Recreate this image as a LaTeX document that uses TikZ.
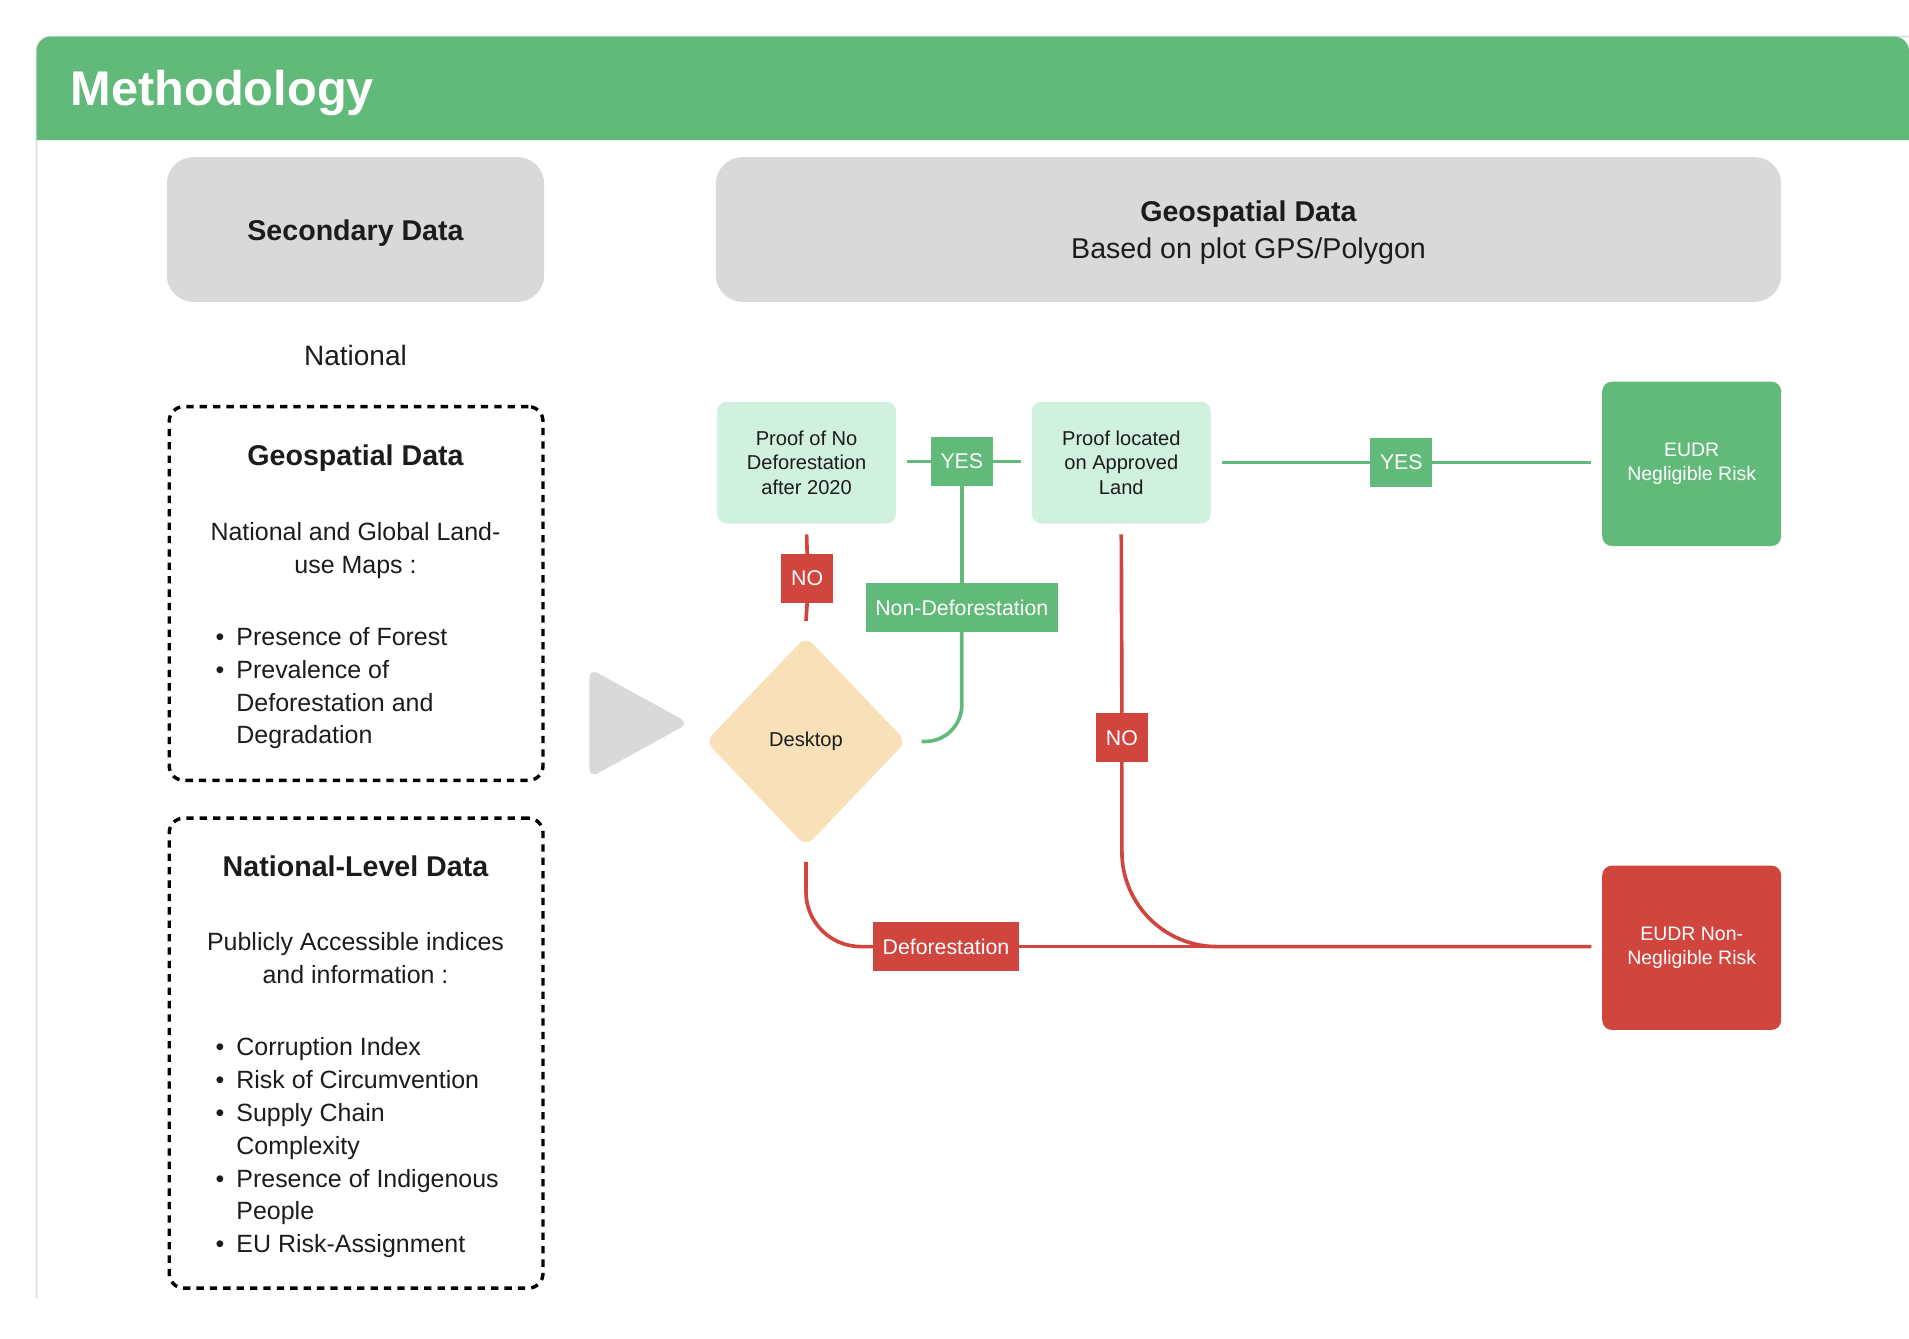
\documentclass[tikz,border=0pt]{standalone}
\usepackage{fontspec}
\setmainfont{Liberation Sans}
\usetikzlibrary{shapes.geometric}

\definecolor{hdgreen}{HTML}{62BA7A}
\definecolor{mint}{HTML}{CFF1DD}
\definecolor{redx}{HTML}{D1453F}
\definecolor{beige}{HTML}{F8E1B9}
\definecolor{greyfill}{HTML}{D9D9D9}
\definecolor{framegrey}{HTML}{DDDDDD}
\definecolor{ink}{HTML}{1C1C1C}

\newcommand{\fs}[2]{\fontsize{#1}{#2}\selectfont}
\newcommand{\bul}{\makebox[17pt][l]{\textbullet}}
\newcommand{\hang}{\makebox[17pt]{}}

\begin{document}
\begin{tikzpicture}[x=1pt, y=-1pt,
    greyhead/.style={fill=greyfill, rounded corners=22pt, inner sep=0pt, minimum height=119pt},
    headtext/.style={text=ink, align=center, anchor=base, inner sep=0pt},
    dashbox/.style={draw=black, line width=2.8pt, dash pattern=on 6pt off 5pt,
        rounded corners=12pt, minimum width=307pt, inner sep=0pt},
    flowbox/.style={fill=mint, rounded corners=8pt, minimum width=147pt, minimum height=100pt,
        align=center, text=ink, font=\fs{16.5}{20}, inner sep=0pt, outer sep=9pt},
    resultbox/.style={rounded corners=8pt, minimum width=147pt, minimum height=135pt,
        align=center, text=white, font=\fs{16}{20}, inner sep=0pt, outer sep=9pt},
    tagbox/.style={minimum height=40pt, inner xsep=8pt, inner ysep=0pt, text=white,
        font=\fs{17.5}{20}, outer sep=0pt},
    gline/.style={draw=hdgreen, line width=3pt},
    rline/.style={draw=redx, line width=3pt}]

\useasboundingbox (0,0) rectangle (1568,1099);

% ===== card and header =====
\draw[framegrey, line width=1.5pt, rounded corners=12pt] (30,1066) -- (30,30) -- (1568,30);
\fill[hdgreen] (30,115) [rounded corners=12pt] -- (30,30) -- (1568,30) [sharp corners] -- (1568,115) -- cycle;
\node[font=\fs{40}{44}\bfseries, text=white, anchor=base west, inner sep=0pt] (title) at (58,87) {Methodology};

% ===== column heads =====
\node[greyhead, minimum width=310pt] (secbox) at (292,188.5) {};
\node[headtext, font=\fs{23.5}{28}\bfseries] (sectext) at (292,197.5) {Secondary Data};
\node[greyhead, minimum width=875pt] (geobox) at (1025.5,188.5) {};
\node[headtext, font=\fs{23.5}{30}] (geotext) at (1025.5,212)
    {\textbf{Geospatial Data}\\Based on plot GPS/Polygon};
\node[headtext, font=\fs{23}{28}] (national) at (292,300) {National};

% ===== secondary data: geospatial =====
\node[dashbox, minimum height=307pt] (geodash) at (292.5,487.5) {};
\node[headtext, font=\fs{23.5}{28}\bfseries] (geotitle) at (292,382) {Geospatial Data};
\node[headtext, font=\fs{20.5}{27}] (geodesc) at (292,471)
    {National and Global Land-\\use Maps :};
\node[font=\fs{20.5}{27}, text=ink, align=left, anchor=base west, inner sep=0pt] (geolist) at (177,611)
    {\bul Presence of Forest\\\bul Prevalence of\\\hang Deforestation and\\\hang Degradation};

% ===== secondary data: national level =====
\node[dashbox, minimum height=386pt] (natdash) at (292.5,865) {};
\node[headtext, font=\fs{23.5}{28}\bfseries] (nattitle) at (292,720) {National-Level Data};
\node[headtext, font=\fs{20.5}{27}] (natdesc) at (292,808)
    {Publicly Accessible indices\\and information :};
\node[font=\fs{20.5}{27}, text=ink, align=left, anchor=base west, inner sep=0pt] (natlist) at (177,1029)
    {\bul Corruption Index\\\bul Risk of Circumvention\\\bul Supply Chain\\\hang Complexity\\
     \bul Presence of Indigenous\\\hang People\\\bul EU Risk-Assignment};

% ===== arrow between columns =====
\fill[greyfill, rounded corners=8pt] (484,549) -- (566,594) -- (484,639) -- cycle;

% ===== decision flow =====
\node[flowbox] (proofnodef) at (662.5,380) {Proof of No\\Deforestation\\after 2020};
\node[flowbox] (proofland) at (921,380) {Proof located\\on Approved\\Land};
\node[resultbox, fill=hdgreen] (negrisk) at (1389.5,381) {EUDR\\Negligible Risk};
\node[resultbox, fill=redx] (nonnegrisk) at (1389.5,778.5) {EUDR Non-\\Negligible Risk};
\node[diamond, fill=beige, rounded corners=8pt, minimum width=172pt, minimum height=180pt,
    inner sep=0pt, outer sep=9pt, text=ink, font=\fs{16.5}{20}] (desktop) at (662,609) {Desktop};

\node[tagbox, fill=hdgreen] (yesa) at (790,379) {YES};
\node[tagbox, fill=hdgreen] (yesb) at (1151,380) {YES};
\node[tagbox, fill=redx] (noa) at (663,475) {NO};
\node[tagbox, fill=redx] (nob) at (921.5,606) {NO};
\node[tagbox, fill=hdgreen] (nondefo) at (790,499) {Non-Deforestation};
\node[tagbox, fill=redx] (defo) at (777,777.5) {Deforestation};

% ===== connectors =====
\draw[gline] (proofnodef.east |- yesa) -- (yesa.west);
\draw[gline] (yesa.east) -- (proofland.west |- yesa);
\draw[gline] (proofland.east |- yesb) -- (yesb.west);
\draw[gline] (yesb.east) -- (negrisk.west |- yesb);
\draw[gline] (yesa.south) -- (nondefo.north);
\draw[gline, rounded corners=30pt] (desktop.east) -| (nondefo.south);

\draw[rline] (proofnodef.south) -- (noa.north);
\draw[rline] (noa.south) -- (desktop.north);
\draw[rline, rounded corners=45pt] (desktop.south) |- (defo.west);
\draw[rline] (defo.east) -- (nonnegrisk.west |- defo);
\draw[rline] (proofland.south) -- (nob.north);
\draw[rline, rounded corners=78pt] (nob.south) |- (nonnegrisk.west |- defo);

\end{tikzpicture}
\end{document}
